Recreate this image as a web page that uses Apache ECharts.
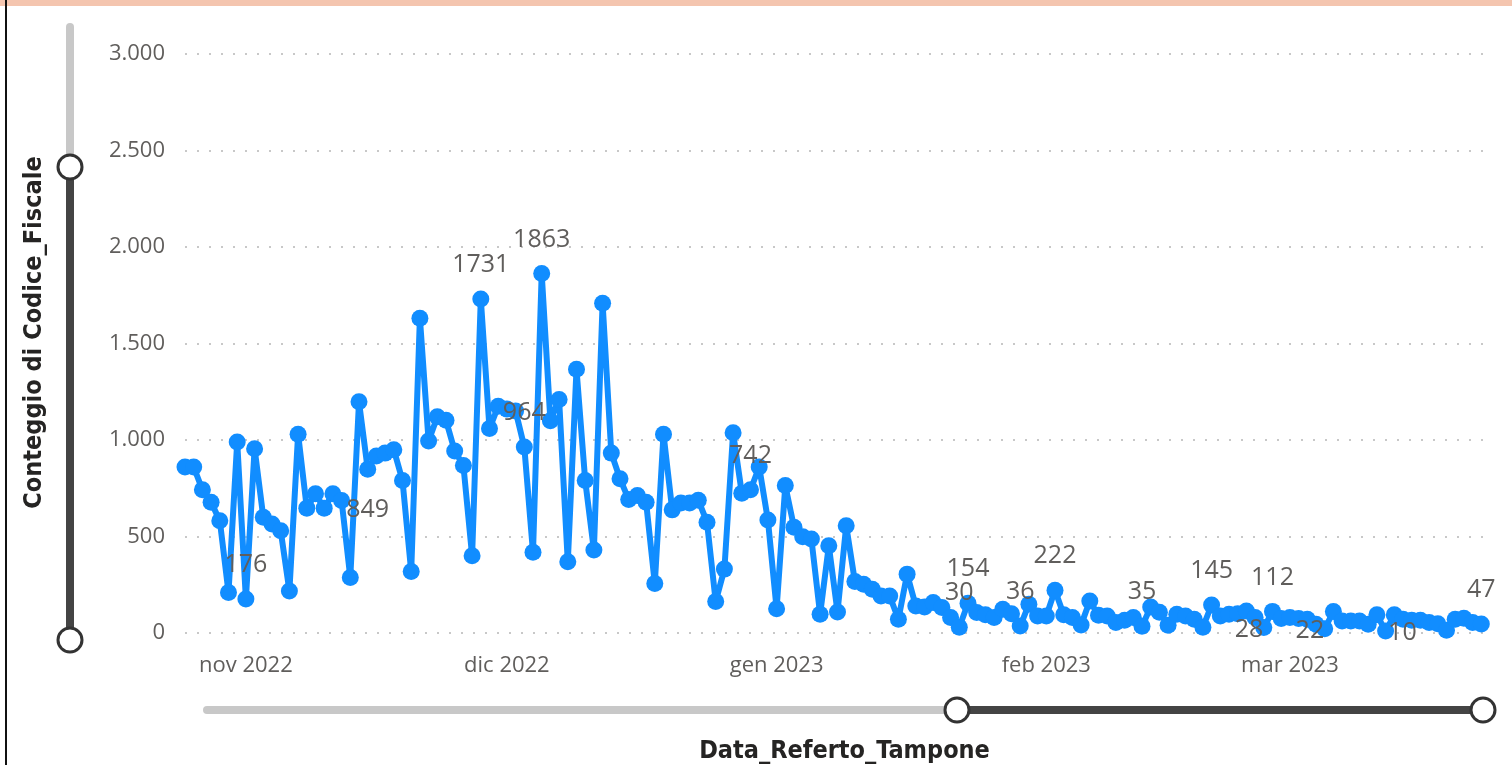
<!DOCTYPE html>
<html>
<head>
<meta charset="utf-8">
<title>Conteggio di Codice_Fiscale per Data_Referto_Tampone</title>
<script src="https://cdn.jsdelivr.net/npm/echarts@6/dist/echarts.min.js"></script>
<style>
  html, body { margin: 0; padding: 0; background: #ffffff; }
  #chart { width: 1512px; height: 765px; }
</style>
</head>
<body>
<div id="chart"></div>
<script>
// first day of the series (year, month 0-based, day), one value per day after it
const firstDay = [2022, 9, 25];

// Conteggio di Codice_Fiscale, one value per day
const dailyCounts = [
  860, 860, 742, 678, 582, 210, 990, 176, 955, 600,
  565, 530, 218, 1030, 647, 721, 647, 721, 686, 288,
  1198, 849, 917, 932, 950, 790, 319, 1631, 995, 1120,
  1102, 943, 868, 400, 1731, 1059, 1175, 1160, 1150, 964,
  418, 1863, 1100, 1210, 369, 1366, 790, 430, 1709, 932,
  799, 692, 712, 678, 256, 1030, 638, 673, 673, 688,
  574, 163, 331, 1038, 724, 742, 860, 586, 126, 764,
  548, 499, 487, 97, 452, 109, 556, 267, 253, 227,
  192, 192, 71, 305, 140, 135, 158, 132, 80, 30,
  154, 106, 94, 80, 123, 100, 36, 149, 88, 88,
  222, 95, 80, 42, 166, 92, 88, 54, 66, 80,
  35, 135, 108, 40, 97, 88, 71, 30, 145, 88,
  97, 100, 114, 80, 28, 112, 75, 80, 75, 71,
  45, 22, 111, 62, 62, 62, 45, 94, 10, 94,
  71, 66, 66, 54, 48, 14, 71, 76, 54, 47
];

// days (index in dailyCounts) that carry a data label, and where it sits
const labeledDays = [7, 21, 34, 39, 41, 65, 89, 90, 96, 100, 110, 118, 124, 125, 131, 138, 149];
const labelsBelow = [21];
const labelsLeft = [124, 131];
const labelsRight = [138];

// x axis month ticks
const monthTicks = [[2022, 10, 1], [2022, 11, 1], [2023, 0, 1], [2023, 1, 1], [2023, 2, 1]];
const monthLabels = ['nov 2022', 'dic 2022', 'gen 2023', 'feb 2023', 'mar 2023'];

const DAY = 24 * 3600 * 1000;
const startTime = new Date(firstDay[0], firstDay[1], firstDay[2]).getTime();
const days = dailyCounts.map((v, i) => startTime + i * DAY);
const tickTimes = monthTicks.map(t => new Date(t[0], t[1], t[2]).getTime());

const blue = '#118DFF';
const textGray = '#605E5C';
const titleFont = "'DejaVu Sans Condensed', 'Liberation Sans Narrow', sans-serif";
const tickFont = "'Open Sans', 'Noto Sans', sans-serif";

function thousands(v) {
    return String(v).replace(/\B(?=(\d{3})+(?!\d))/g, '.');
}

// nearest month tick for a time value (day boundaries can shift by DST)
function monthLabelFor(val) {
    for (let k = 0; k < tickTimes.length; k++) {
        if (Math.abs(tickTimes[k] - val) < DAY / 2) return monthLabels[k];
    }
    return '';
}

function labelFor(i) {
    if (labelsBelow.includes(i)) return { show: true, position: 'bottom', distance: 20 };
    if (labelsLeft.includes(i)) return { show: true, position: 'left', distance: -8, offset: [0, 2] };
    if (labelsRight.includes(i)) return { show: true, position: 'right', distance: -6, offset: [0, 2] };
    return { show: true, position: 'top', distance: 13 };
}

const seriesData = dailyCounts.map((v, i) => {
    const item = { value: [days[i], v] };
    if (labeledDays.includes(i)) item.label = labelFor(i);
    return item;
});

const chart = echarts.init(document.getElementById('chart'), null, { renderer: 'canvas' });

const option = {
    animation: false,
    backgroundColor: '#ffffff',
    grid: { left: 185, right: 22, top: 54, bottom: 132, containLabel: false, outerBoundsMode: 'none' },
    xAxis: {
        type: 'value',
        min: days[0],
        max: days[days.length - 1] + DAY,
        name: 'Data_Referto_Tampone',
        nameLocation: 'middle',
        nameGap: 106,
        nameTextStyle: { fontFamily: titleFont, fontSize: 25, fontWeight: 'bold', color: '#252423', padding: [0, 0, 0, 14] },
        axisLine: { show: false },
        axisTick: { show: false },
        splitLine: { show: false },
        axisLabel: {
            customValues: tickTimes,
            margin: 22,
            fontFamily: tickFont,
            fontSize: 22,
            color: textGray,
            formatter: monthLabelFor
        }
    },
    yAxis: {
        type: 'value',
        min: 0,
        max: 3000,
        interval: 500,
        name: 'Conteggio di Codice_Fiscale',
        nameLocation: 'middle',
        nameGap: 138,
        nameTextStyle: { fontFamily: titleFont, fontSize: 25, fontWeight: 'bold', color: '#252423', padding: [0, 0, 0, 22] },
        axisLine: { show: false },
        axisTick: { show: false },
        axisLabel: {
            margin: 20,
            fontFamily: tickFont,
            fontSize: 22,
            color: textGray,
            formatter: thousands
        },
        splitLine: {
            show: true,
            lineStyle: { color: '#c8c8c8', width: 2, type: [2, 10] }
        }
    },
    series: [
        {
            name: 'Conteggio di Codice_Fiscale',
            type: 'line',
            data: seriesData,
            symbol: 'circle',
            symbolSize: 17,
            showAllSymbol: true,
            lineStyle: { width: 6, color: blue, join: 'round' },
            itemStyle: { color: blue },
            label: {
                show: false,
                fontFamily: tickFont,
                fontSize: 25,
                color: textGray,
                formatter: p => p.value[1]
            },
            emphasis: { disabled: true }
        }
    ],
    graphic: [
        // top accent band and left border of the visual
        { type: 'rect', shape: { x: 0, y: 0, width: 1512, height: 6 }, style: { fill: '#F4C5AF' } },
        { type: 'rect', shape: { x: 5, y: 0, width: 2, height: 765 }, style: { fill: '#111111' } },
        // vertical zoom slider
        { type: 'rect', shape: { x: 66, y: 23, width: 8, height: 150, r: 4 }, style: { fill: '#c8c8c8' } },
        { type: 'rect', shape: { x: 66, y: 167, width: 8, height: 473 }, style: { fill: '#444444' } },
        { type: 'circle', shape: { cx: 70, cy: 167, r: 12 }, style: { fill: '#ffffff', stroke: '#333333', lineWidth: 3 } },
        { type: 'circle', shape: { cx: 70, cy: 640, r: 12 }, style: { fill: '#ffffff', stroke: '#333333', lineWidth: 3 } },
        // horizontal zoom slider
        { type: 'rect', shape: { x: 203, y: 706, width: 760, height: 8, r: 4 }, style: { fill: '#c8c8c8' } },
        { type: 'rect', shape: { x: 957, y: 706, width: 526, height: 8 }, style: { fill: '#444444' } },
        { type: 'circle', shape: { cx: 957, cy: 710, r: 12 }, style: { fill: '#ffffff', stroke: '#333333', lineWidth: 3 } },
        { type: 'circle', shape: { cx: 1483, cy: 710, r: 12 }, style: { fill: '#ffffff', stroke: '#333333', lineWidth: 3 } }
    ]
};

chart.setOption(option);
</script>
</body>
</html>
